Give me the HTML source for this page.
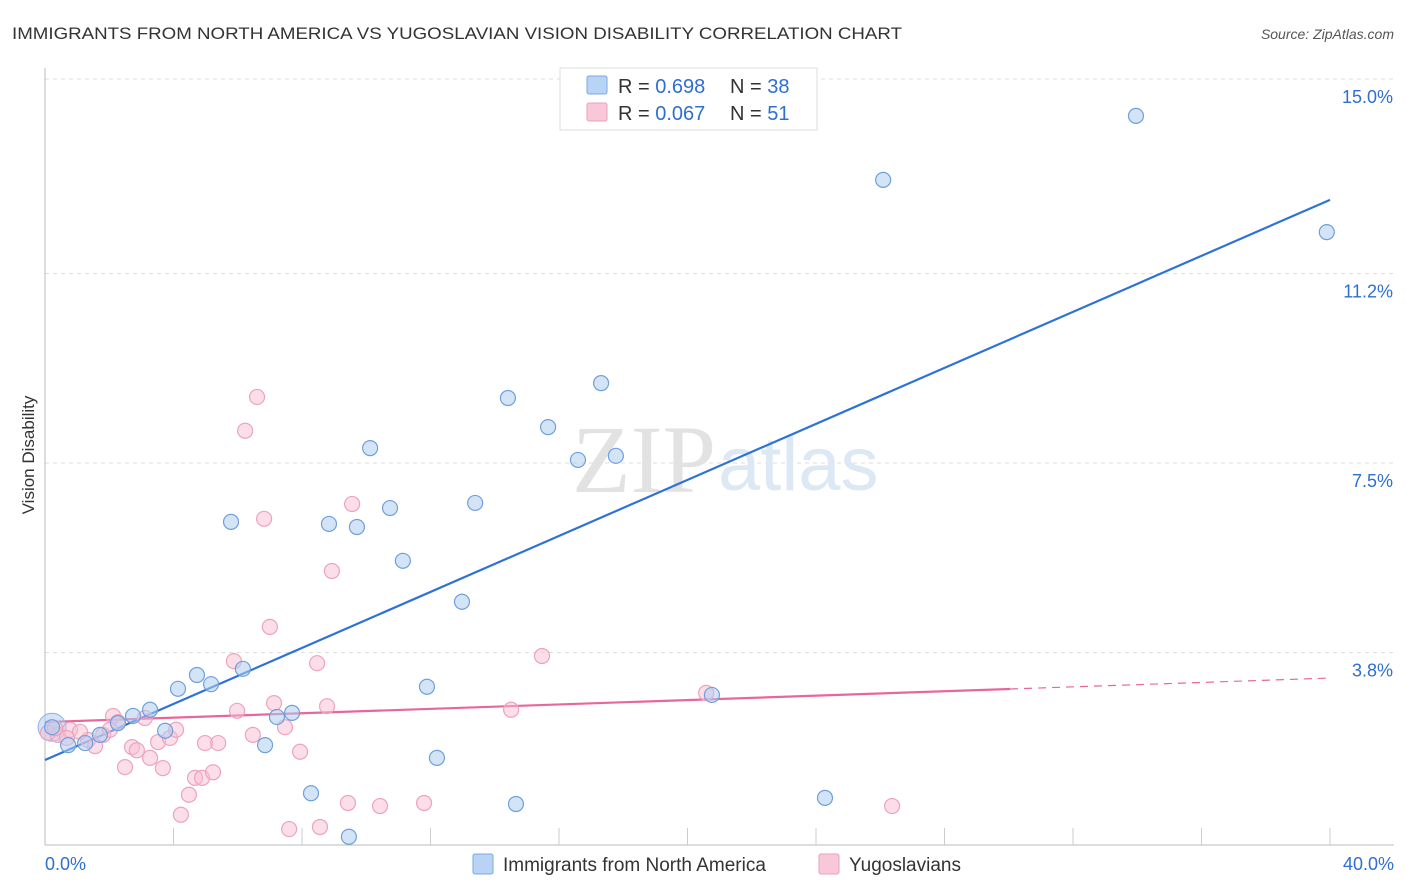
<!DOCTYPE html>
<html><head><meta charset="utf-8"><style>
body{margin:0;background:#fff;font-family:"Liberation Sans",sans-serif}
svg{display:block}
</style></head><body>
<svg id="c" width="1406" height="892" viewBox="0 0 1406 892">
<text x="12" y="39" font-size="17" fill="#333" textLength="890" lengthAdjust="spacingAndGlyphs">IMMIGRANTS FROM NORTH AMERICA VS YUGOSLAVIAN VISION DISABILITY CORRELATION CHART</text>
<text x="1394" y="39" font-size="14" fill="#555" font-style="italic" text-anchor="end">Source: ZipAtlas.com</text>
<text x="34" y="455" font-size="17" fill="#333" text-anchor="middle" transform="rotate(-90 34 455)">Vision Disability</text>
<g id="grid"></g>
<text x="716" y="492" font-size="96" fill="#e2e2e2" text-anchor="end" font-family="Liberation Serif,serif">ZIP</text>
<text x="718" y="490" font-size="76" fill="#dde8f5">atlas</text>
<g id="lines"></g>
<g id="pts"></g>
<g>
<rect x="560" y="68" width="257" height="62" fill="#fff" stroke="#ddd"/>
<rect x="587" y="76" width="20" height="18" fill="#b8d3f5" stroke="#7aa8e4" rx="2"/>
<rect x="587" y="103" width="20" height="18" fill="#f9c8d8" stroke="#eaa0b9" rx="2"/>
<text x="618" y="93" font-size="20" fill="#333">R = <tspan fill="#2e6fd1">0.698</tspan></text>
<text x="730" y="93" font-size="20" fill="#333">N = <tspan fill="#2e6fd1">38</tspan></text>
<text x="618" y="120" font-size="20" fill="#333">R = <tspan fill="#2e6fd1">0.067</tspan></text>
<text x="730" y="120" font-size="20" fill="#333">N = <tspan fill="#2e6fd1"> 51</tspan></text>
</g>
<g>
<rect x="473" y="854" width="20" height="20" fill="#b8d3f5" stroke="#7aa8e4" rx="2"/>
<text x="503" y="871" font-size="19" fill="#333">Immigrants from North America</text>
<rect x="819" y="854" width="20" height="20" fill="#f9c8d8" stroke="#eaa0b9" rx="2"/>
<text x="849" y="871" font-size="19" fill="#333">Yugoslavians</text>
</g>
</svg>
<script>
const yTicks=[3.8,7.5,11.2,15.0];
const yTickLabels=["3.8%","7.5%","11.2%","15.0%"];
const xTickLabels=["0.0%","40.0%"];
const blueX=[0.22,0.72,1.25,1.71,2.27,2.74,3.27,3.74,4.14,4.73,5.17,5.79,6.16,6.85,7.22,7.69,8.28,8.84,9.46,9.71,10.12,10.74,11.14,11.89,12.20,12.98,13.39,14.41,14.66,15.66,16.59,17.31,17.77,20.76,24.28,26.09,33.96,39.9];
const blueY=[2.34,1.99,2.03,2.19,2.42,2.56,2.68,2.27,3.09,3.36,3.18,6.35,3.48,1.99,2.54,2.62,1.05,6.31,0.20,6.25,7.79,6.62,5.59,3.13,1.74,4.79,6.72,8.77,0.84,8.20,7.56,9.06,7.64,2.97,0.96,13.03,14.28,12.01];
const pinkX=[0.09,0.40,0.78,1.34,1.56,1.81,2.12,2.27,2.49,2.71,2.86,3.11,3.27,3.52,3.67,3.89,4.08,4.23,4.48,4.67,4.89,4.98,5.23,5.39,5.88,5.98,6.23,6.47,6.60,6.82,7.00,7.13,7.47,7.60,7.94,8.47,8.56,8.78,8.93,9.43,9.56,10.43,11.80,14.51,15.47,20.58,26.37,0.31,1.09,2.02,0.68];
const pinkY=[2.23,2.19,2.29,2.09,1.97,2.19,2.56,2.44,1.56,1.95,1.89,2.52,1.74,2.05,1.54,2.13,2.29,0.63,1.02,1.35,1.35,2.03,1.46,2.03,3.63,2.66,8.13,2.19,8.79,6.41,4.30,2.81,2.34,0.35,1.86,3.59,0.39,2.75,5.39,0.86,6.70,0.80,0.86,2.68,3.73,3.01,0.80,2.32,2.25,2.29,2.13];
const blueFit=[1.70,12.64];
const pinkFit=[2.44,3.30];
const pinkSolidEnd=30.04;
const X=v=>45+v*32.125, Y=v=>847-v*51.2;
const NS="http://www.w3.org/2000/svg";
function mk(t,a,p){const e=document.createElementNS(NS,t);for(const k in a)e.setAttribute(k,a[k]);p.appendChild(e);return e;}
const g=document.getElementById('grid');
yTicks.forEach((t,i)=>{
 const l=mk('line',{x1:45,x2:1394,y1:Y(t),y2:Y(t),stroke:'#ddd','stroke-dasharray':'4,4'},g);
 
 
 const tx=mk('text',{x:1393,y:Y(t)+24,'font-size':18,fill:'#2e6fd1','text-anchor':'end'},g);
 tx.textContent=yTickLabels[i];
 
 
});
const ax=mk('line',{x1:45,x2:1394,y1:845,y2:845,stroke:'#bbb'},g);


const ay=mk('line',{x1:45,x2:45,y1:68,y2:845,stroke:'#bbb'},g);


for(let i=1;i<=10;i++){const xx=45+i*128.5;const tk=mk('line',{x1:xx,x2:xx,y1:828,y2:845,stroke:'#ccc'},g);
 
 }
[[0,'start',45],[40,'end',1394]].forEach((d,i)=>{const t=mk('text',{x:d[2],y:870,'font-size':18,fill:'#2e6fd1','text-anchor':d[1]},g);t.textContent=xTickLabels[i];
 
 });
const L=document.getElementById('lines');
const bl=mk('line',{x1:X(0),y1:Y(blueFit[0]),x2:X(40),y2:Y(blueFit[1]),stroke:'#2e72d8','stroke-width':2.2},L);


const pm=pinkFit[0]+(pinkFit[1]-pinkFit[0])*pinkSolidEnd/40;
const pl=mk('line',{x1:X(0),y1:Y(pinkFit[0]),x2:X(pinkSolidEnd),y2:Y(pm),stroke:'#e8679a','stroke-width':2.2},L);


const pd=mk('line',{x1:X(pinkSolidEnd),y1:Y(pm),x2:X(40),y2:Y(pinkFit[1]),stroke:'#e8679a','stroke-width':1.2,'stroke-dasharray':'8,6'},L);


const P=document.getElementById('pts');
const bb=mk('circle',{cx:X(0.22),cy:Y(2.34),r:14,fill:'rgba(170,200,240,0.5)',stroke:'#8ab3e8'},P);


pinkX.forEach((x,i)=>{const c=mk('circle',{cx:X(x),cy:Y(pinkY[i]),r:7.5,fill:'rgba(248,190,210,0.5)',stroke:'#eda3bd','stroke-width':1.2},P);
 
 });
blueX.forEach((x,i)=>{const c=mk('circle',{cx:X(x),cy:Y(blueY[i]),r:7.5,fill:'rgba(175,205,240,0.55)',stroke:'#6f9fdc','stroke-width':1.2},P);
 
 });
</script>
</body></html>
